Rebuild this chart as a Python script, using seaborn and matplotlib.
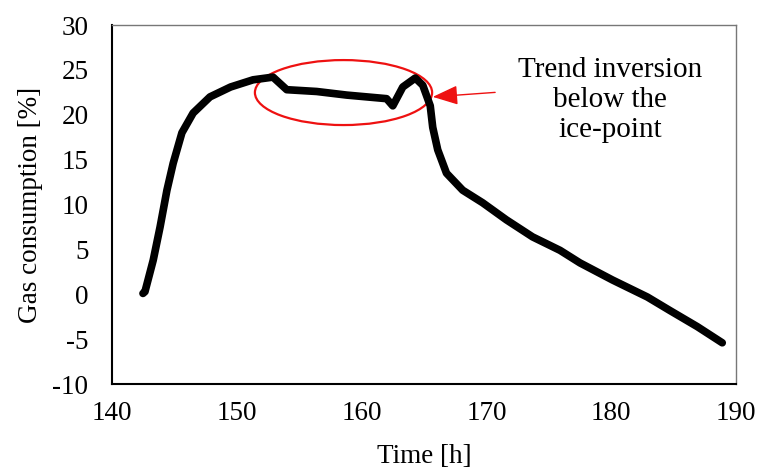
import matplotlib
matplotlib.use("Agg")
import matplotlib.pyplot as plt
import seaborn as sns
import pandas as pd
from matplotlib.patches import Ellipse

time_h = [142.48, 142.64, 143.3, 143.85, 144.4, 144.9, 145.6, 146.5, 147.85, 149.5,
          151.3, 152.9, 154.0, 156.4, 158.8, 161.2, 162.0, 162.5, 163.3, 164.3,
          164.9, 165.5, 165.7, 166.1, 166.8, 168.1, 169.7, 171.6, 173.7, 175.9,
          177.5, 180.1, 182.9, 184.7, 186.9, 188.9]
gas_pct = [0.1, 0.3, 3.8, 7.5, 11.6, 14.6, 18.0, 20.2, 22.0, 23.1,
           23.9, 24.2, 22.8, 22.6, 22.2, 21.9, 21.8, 21.0, 23.1, 24.1,
           23.3, 21.0, 18.6, 16.1, 13.5, 11.6, 10.2, 8.3, 6.4, 4.9,
           3.5, 1.6, -0.3, -1.8, -3.6, -5.4]

x_ticks = [140, 150, 160, 170, 180, 190]
y_ticks = [-10, -5, 0, 5, 10, 15, 20, 25, 30]
annotation = "Trend inversion\nbelow the\nice-point"

sns.set_theme(style="white")
plt.rcParams['font.family'] = ['Liberation Serif', 'DejaVu Serif']
plt.rcParams['axes.unicode_minus'] = False

df = pd.DataFrame({"Time": time_h, "Gas": gas_pct})

fig = plt.figure(figsize=(7.6, 4.73), dpi=100)
ax = fig.add_axes([0.1474, 0.188, 0.821, 0.759])
sns.lineplot(data=df, x="Time", y="Gas", sort=False, color="black",
             linewidth=5.5, ax=ax, solid_capstyle="round", solid_joinstyle="round")

ax.set_xlim(140, 190)
ax.set_ylim(-10, 30)
ax.set_xticks(x_ticks)
ax.set_yticks(y_ticks)
ax.tick_params(axis="both", labelsize=19.5, length=0, colors="black")
ax.tick_params(axis="y", pad=17)
ax.tick_params(axis="x", pad=12)
ax.set_xlabel("Time [h]", fontsize=19.5, color="black", labelpad=13)
ax.set_ylabel("Gas consumption [%]", fontsize=19.5, color="black", labelpad=7)
for s in ax.spines.values():
    s.set_color("black")
    s.set_linewidth(1.0)
ax.spines["top"].set_color("#777777")
ax.spines["right"].set_color("#777777")
ax.spines["left"].set_linewidth(1.5)
ax.spines["bottom"].set_linewidth(1.5)

ell = Ellipse((158.55, 22.48), 14.2, 7.24, fill=False, edgecolor="#ee1111", linewidth=1.6)
ax.add_patch(ell)
ax.annotate("", xy=(165.7, 22.0), xytext=(170.7, 22.5),
            arrowprops=dict(arrowstyle="-|>,head_length=1.3,head_width=0.5",
                            color="#ee1111", lw=1.0, shrinkA=0, shrinkB=0))
ax.text(179.9, 21.64, annotation, ha="center", va="center", fontsize=21,
        linespacing=1.2, color="black")

fig.savefig("out.png", dpi=100)
